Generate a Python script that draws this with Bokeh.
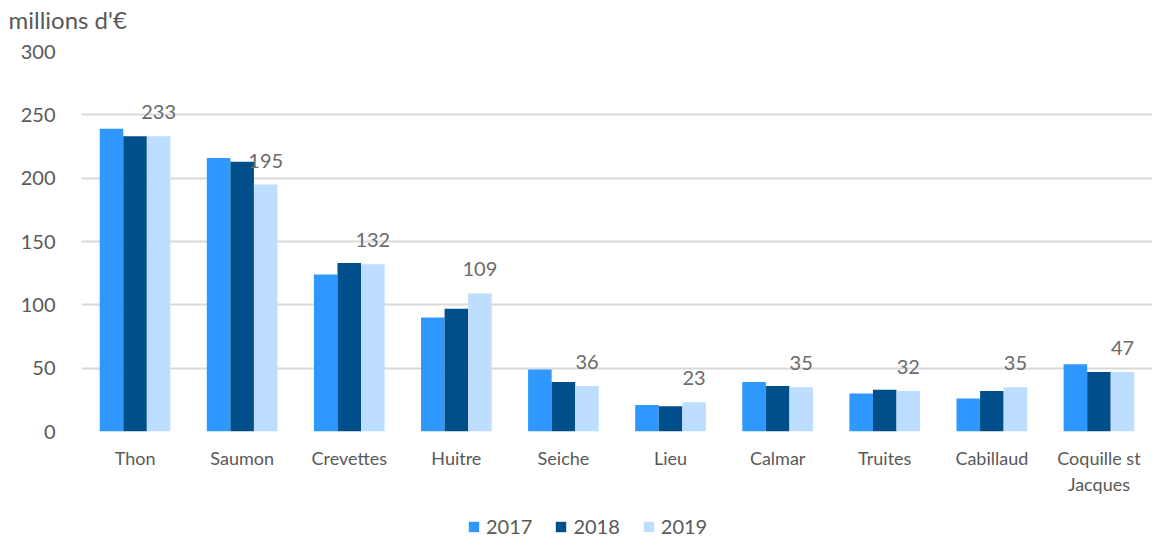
from bokeh.plotting import figure
from bokeh.layouts import column
from bokeh.models import ColumnDataSource, FactorRange, Range1d, Legend, LegendItem, FixedTicker, Title
from bokeh.transform import dodge
from bokeh.core.properties import value
from bokeh.embed import file_html
from bokeh.resources import INLINE

categories = ["Thon", "Saumon", "Crevettes", "Huitre", "Seiche", "Lieu", "Calmar", "Truites", "Cabillaud", "Coquille st\nJacques"]
v2017 = [239, 216, 124, 90, 49, 21, 39, 30, 26, 53]
v2018 = [233, 213, 133, 97, 39, 20, 36, 33, 32, 47]
v2019 = [233, 195, 132, 109, 36, 23, 35, 32, 35, 47]
years = ["2017", "2018", "2019"]
colors = ["#2E98FF", "#004F8B", "#BDDEFF"]
y_ticks = [0, 50, 100, 150, 200, 250, 300]
unit_label = "millions d'€"

FONT = "Lato"
W = 1152

# --- top strip: unit label ---
top = figure(width=W, height=36, x_range=Range1d(0, 1), y_range=Range1d(0, 1),
             output_backend="svg", toolbar_location=None, x_axis_type=None, y_axis_type=None,
             min_border_left=81, min_border_right=0, min_border_top=33, min_border_bottom=0)
top.outline_line_color = None
top.add_layout(Title(text=unit_label, align="left", vertical_align="bottom", offset=-73, standoff=0,
                     text_font=FONT, text_font_size="24px", text_font_style="normal",
                     text_color="#595959"), "above")

# --- main chart ---
src = ColumnDataSource(dict(cat=categories, v2017=v2017, v2018=v2018, v2019=v2019,
                            lbl=[str(v) for v in v2019]))

p = figure(x_range=FactorRange(*categories, range_padding=0), y_range=Range1d(0, 300),
           width=W, height=464, output_backend="svg", toolbar_location=None,
           min_border_left=81, min_border_right=0, min_border_top=15, min_border_bottom=69)
p.outline_line_color = None

for i, (yr, col) in enumerate(zip(years, colors)):
    p.vbar(x=dodge("cat", (i - 1) * 0.22, range=p.x_range), top="v" + yr, width=0.22,
           source=src, fill_color=col, line_color=None)

p.text(x=dodge("cat", 0.22, range=p.x_range), y="v2019", text="lbl", source=src,
       text_align="center", text_baseline="bottom", y_offset=-17,
       text_font=value(FONT), text_font_size="20px", text_color="#6b6b6b")

p.yaxis.ticker = FixedTicker(ticks=y_ticks)
p.ygrid.ticker = FixedTicker(ticks=y_ticks)
p.ygrid.grid_line_color = "#d9d9d9"
p.ygrid.grid_line_width = 2
p.xgrid.grid_line_color = None
for ax in (p.xaxis, p.yaxis):
    ax.axis_line_color = None
    ax.major_tick_line_color = None
    ax.minor_tick_line_color = None
    ax.major_label_text_font = FONT
    ax.major_label_text_color = "#595959"
p.yaxis.major_label_text_font_size = "20px"
p.yaxis.major_label_standoff = 20
p.xaxis.major_label_text_font_size = "18px"
p.xaxis.major_label_standoff = 9

# --- legend strip (zero-height proxy bars carry the legend swatches) ---
leg = figure(width=W, height=38, x_range=Range1d(0, 1), y_range=Range1d(0, 1),
             output_backend="svg", toolbar_location=None, x_axis_type=None, y_axis_type=None,
             min_border_left=81, min_border_right=0, min_border_top=0, min_border_bottom=0)
leg.outline_line_color = None
proxies = [leg.vbar(x=[0], bottom=[0], top=[0], width=0, fill_color=c, line_color=None) for c in colors]
legend = Legend(items=[LegendItem(label=yr, renderers=[r]) for yr, r in zip(years, proxies)],
                orientation="horizontal", location=(386, 0),
                label_text_font=FONT, label_text_font_size="20px", label_text_color="#595959",
                glyph_width=13, glyph_height=13, label_standoff=6, spacing=22,
                border_line_color=None, background_fill_alpha=0, margin=0, padding=0)
leg.add_layout(legend, "center")

layout = column(top, p, leg, spacing=0)
open("out.html", "w").write(file_html(layout, INLINE))
